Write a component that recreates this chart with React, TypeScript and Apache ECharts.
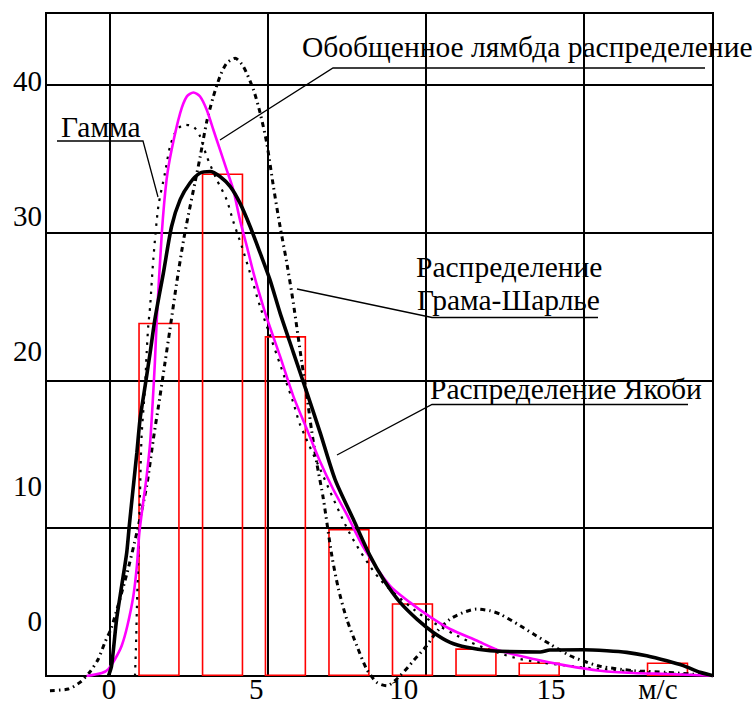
import React, { useEffect, useRef } from "react";
import * as echarts from "echarts";

// Histogram (wind speed, %)
const histCenters = [1.55, 3.56, 5.55, 7.56, 9.57, 11.58, 13.58, 15.57, 17.64];
const histValues = [23.9, 34.0, 23.0, 9.95, 4.93, 1.87, 0.92, 0, 0.92];

// Curves [x (m/s), y (%)]
const jacobiCurve: number[][] = [
  [-0.05, 0], [0.05, 0.7], [0.21, 3.85], [0.37, 6.1], [0.53, 8.36], [0.61, 10.16], [0.74, 12.86],
  [0.85, 15.11], [0.95, 17.36], [1.11, 19.61], [1.27, 21.87], [1.42, 24.12], [1.69, 27.28],
  [1.95, 30.43], [2.22, 32.23], [2.53, 33.36], [2.85, 34.03], [3.17, 34.14], [3.48, 33.8],
  [3.8, 33.13], [4.11, 32.01], [4.43, 30.43], [4.75, 28.63], [5.06, 26.82], [5.38, 24.57],
  [5.8, 21.9], [6.23, 19.17], [6.65, 16.47], [7.12, 13.31], [7.7, 10.6], [8.23, 8.13],
  [8.65, 6.55], [9.18, 4.98], [9.71, 3.85], [10.23, 2.95], [10.76, 2.28], [11.29, 1.94],
  [12.03, 1.71], [13.61, 1.62], [13.92, 1.76], [14.98, 1.78], [15.72, 1.71], [16.35, 1.6],
  [16.98, 1.37], [17.62, 1.03], [18.14, 0.7], [18.67, 0.25], [19.08, 0.02],
];

const lambdaCurve: number[][] = [
  [-0.74, 0], [-0.26, 0.2], [-0.05, 0.47], [0.16, 1.15], [0.37, 2.05], [0.55, 3.4], [0.74, 5.43],
  [0.85, 7.45], [0.93, 9.71], [1.05, 11.74], [1.16, 13.53], [1.27, 15.79], [1.35, 18.49],
  [1.42, 21.2], [1.48, 24.12], [1.64, 29.98], [1.79, 33.58], [1.95, 35.61], [2.22, 38.09],
  [2.43, 39.21], [2.64, 39.48], [2.85, 39.21], [3.06, 38.31], [3.27, 36.96], [3.48, 35.61],
  [3.69, 34.26], [3.9, 32.91], [4.11, 30.88], [4.33, 29.07], [4.54, 27.28], [4.75, 25.7],
  [4.96, 24.24], [5.38, 21.64], [5.8, 18.94], [6.23, 16.7], [6.65, 14.5], [7.07, 12.6],
  [7.5, 10.9], [8.02, 8.7], [8.86, 6.1], [9.49, 4.98], [10.13, 4.0], [10.76, 3.18],
  [11.6, 2.4], [12.34, 1.71], [13.4, 1.15], [14.45, 0.7], [15.51, 0.36], [16.56, 0.2],
  [17.62, 0.14], [19.08, 0.02],
];

const gammaCurve: number[][] = [
  [0.79, 0], [0.82, 1.82], [0.85, 4.53], [0.9, 8.36], [0.95, 12.41], [1.0, 16.24], [1.11, 19.61],
  [1.16, 21.87], [1.21, 23.67], [1.27, 25.02], [1.37, 28.18], [1.53, 31.78], [1.74, 34.03],
  [1.9, 35.83], [2.11, 36.96], [2.37, 37.3], [2.64, 37.18], [2.85, 36.51], [3.06, 35.16],
  [3.38, 33.58], [3.69, 32.23], [3.9, 30.76], [4.17, 29.07], [4.43, 27.28], [4.75, 25.0],
  [5.8, 18.5], [6.01, 17.03], [6.65, 13.99], [7.6, 9.59], [8.54, 6.55], [9.81, 4.19],
  [11.39, 2.3], [12.97, 1.15], [15.51, 0.47], [19.08, 0],
];

const gramCharlierCurve: number[][] = [
  [-1.9, -0.99], [-1.32, -0.88], [-0.95, -0.43], [-0.63, 0.29], [-0.37, 1.15], [-0.16, 2.28],
  [0.05, 3.29], [0.53, 6.89], [0.85, 9.71], [1.16, 12.86], [1.37, 16.0], [1.58, 18.9],
  [1.74, 21.2], [1.9, 23.5], [2.11, 26.6], [2.32, 29.4], [2.48, 31.2], [2.69, 33.4], [2.85, 35.1],
  [3.06, 37.5], [3.27, 39.21], [3.48, 40.56], [3.69, 41.46], [3.96, 41.8], [4.22, 41.24],
  [4.54, 39.66], [4.75, 38.1], [4.96, 36.06], [5.17, 33.13], [5.38, 30.43], [5.59, 28.0],
  [5.8, 25.25], [6.07, 21.2], [6.23, 18.94], [6.38, 16.6], [6.54, 14.44], [6.75, 12.0],
  [7.02, 8.13], [7.23, 5.88], [7.49, 3.85], [7.81, 2.05], [8.12, 0.47], [8.44, -0.43],
  [8.76, -0.66], [9.18, 0.02], [9.6, 1.03], [10.02, 2.05], [10.34, 3.0], [10.76, 3.85],
  [11.18, 4.3], [11.6, 4.53], [12.03, 4.41], [12.34, 4.19], [12.98, 3.4], [13.4, 2.84],
  [13.92, 2.16], [14.56, 1.37], [15.09, 0.93], [15.51, 0.66], [16.56, 0.36], [17.62, 0.25],
  [19.08, 0.02],
];

// Tick labels (as printed on the figure)
const xTickValues = [0, 5, 10, 15, 18.63];
const xTickLabels = ["0", "5", "10", "15", "м/с"];
const yTickValues = [0, 10, 20, 30, 40];
const yTickLabels = ["0", "10", "20", "30", "40"];

// Annotation captions
const captionGamma = "Гамма";
const captionLambda = "Обобщенное лямбда распределение";
const captionGram1 = "Распределение";
const captionGram2 = "Грама-Шарлье";
const captionJacobi = "Распределение Якоби";

const FONT = "Liberation Serif";
const FS = 29.5;

function lookup(values: number[], labels: string[]) {
  return (v: number) => {
    const i = values.findIndex((t) => Math.abs(t - v) < 1e-6);
    return i >= 0 ? labels[i] : "";
  };
}

function caption(text: string, x: number, baseline: number) {
  return {
    type: "text",
    x,
    y: baseline - 0.3375 * FS,
    z: 100,
    style: {
      text,
      fill: "#000",
      fontSize: FS,
      fontFamily: FONT,
      align: "left",
      verticalAlign: "middle",
    },
  };
}

function leader(points: number[][]) {
  return {
    type: "polyline",
    z: 100,
    shape: { points },
    style: { stroke: "#000", lineWidth: 1.3, fill: "none" },
  };
}

export default function App() {
  const ref = useRef<HTMLDivElement>(null);
  useEffect(() => {
    if (!ref.current) return;
    const chart = echarts.init(ref.current, undefined, { renderer: "svg" });
    const labelStyle = { color: "#000", fontSize: 29, fontFamily: FONT };
    const lineCommon = { type: "line", symbol: "none", smooth: 0.25 };
    const option: any = {
      animation: false,
      backgroundColor: "#fff",
      textStyle: { fontFamily: FONT },
      grid: {
        left: 46,
        right: 39,
        top: 13,
        bottom: 26,
        show: true,
        borderColor: "#000",
        borderWidth: 2,
        backgroundColor: "transparent",
      },
      xAxis: [
        {
          type: "value",
          position: "bottom",
          min: -2.025,
          max: 19.08,
          splitNumber: 5,
          axisLine: { show: false, onZero: false },
          axisTick: { show: false },
          axisLabel: { show: false },
          splitLine: { show: true, lineStyle: { color: "#000", width: 2 } },
        },
        {
          type: "value",
          position: "bottom",
          min: -2.138,
          max: 20.5,
          axisLine: { show: false, onZero: false },
          axisTick: { show: false },
          splitLine: { show: false },
          axisLabel: {
            ...labelStyle,
            margin: -2,
            customValues: xTickValues,
            formatter: lookup(xTickValues, xTickLabels),
            showMinLabel: true,
            showMaxLabel: true,
          },
        },
      ],
      yAxis: [
        {
          type: "value",
          position: "left",
          min: 0,
          max: 44.86,
          interval: 10,
          axisLine: { show: false, onZero: false },
          axisTick: { show: false },
          axisLabel: { show: false },
          splitLine: { show: true, lineStyle: { color: "#000", width: 2 } },
        },
        {
          type: "value",
          position: "left",
          min: -4.065,
          max: 45.01,
          axisLine: { show: false, onZero: false },
          axisTick: { show: false },
          splitLine: { show: false },
          axisLabel: {
            ...labelStyle,
            margin: 4,
            customValues: yTickValues,
            formatter: lookup(yTickValues, yTickLabels),
          },
        },
      ],
      series: [
        {
          type: "bar",
          xAxisIndex: 0,
          yAxisIndex: 0,
          barWidth: 41.5,
          data: histCenters
            .map((x, i) => [x, histValues[i]])
            .filter((d) => d[1] > 0),
          itemStyle: {
            color: "rgba(0,0,0,0)",
            borderColor: "#ff0000",
            borderWidth: 1.6,
          },
          z: 2,
        },
        {
          ...lineCommon,
          name: captionGamma,
          data: gammaCurve,
          lineStyle: { color: "#000", width: 2.2, type: [2.5, 6] },
          z: 3,
        },
        {
          ...lineCommon,
          name: captionGram2,
          data: gramCharlierCurve,
          clip: false,
          lineStyle: { color: "#000", width: 3, type: [5, 4, 1.5, 4] },
          z: 3,
        },
        {
          ...lineCommon,
          name: captionLambda,
          data: lambdaCurve,
          lineStyle: { color: "#ff00ff", width: 2.6 },
          z: 4,
        },
        {
          ...lineCommon,
          name: captionJacobi,
          data: jacobiCurve,
          lineStyle: { color: "#000", width: 3.6 },
          z: 5,
        },
      ],
      graphic: [
        caption(captionGamma, 61, 137),
        leader([[57, 141], [143, 141], [158, 197]]),
        caption(captionLambda, 302, 57),
        leader([[705, 68], [333, 68], [220, 140]]),
        caption(captionGram1, 416, 277),
        caption(captionGram2, 417, 310),
        leader([[598, 317.5], [432, 317.5], [297, 289]]),
        caption(captionJacobi, 430, 399),
        leader([[688, 404.5], [432, 404.5], [337, 455]]),
      ],
    };
    chart.setOption(option);
    return () => chart.dispose();
  }, []);
  return (
    <div
      ref={ref}
      style={{ position: "fixed", left: 0, top: 0, width: 752, height: 703 }}
    />
  );
}
